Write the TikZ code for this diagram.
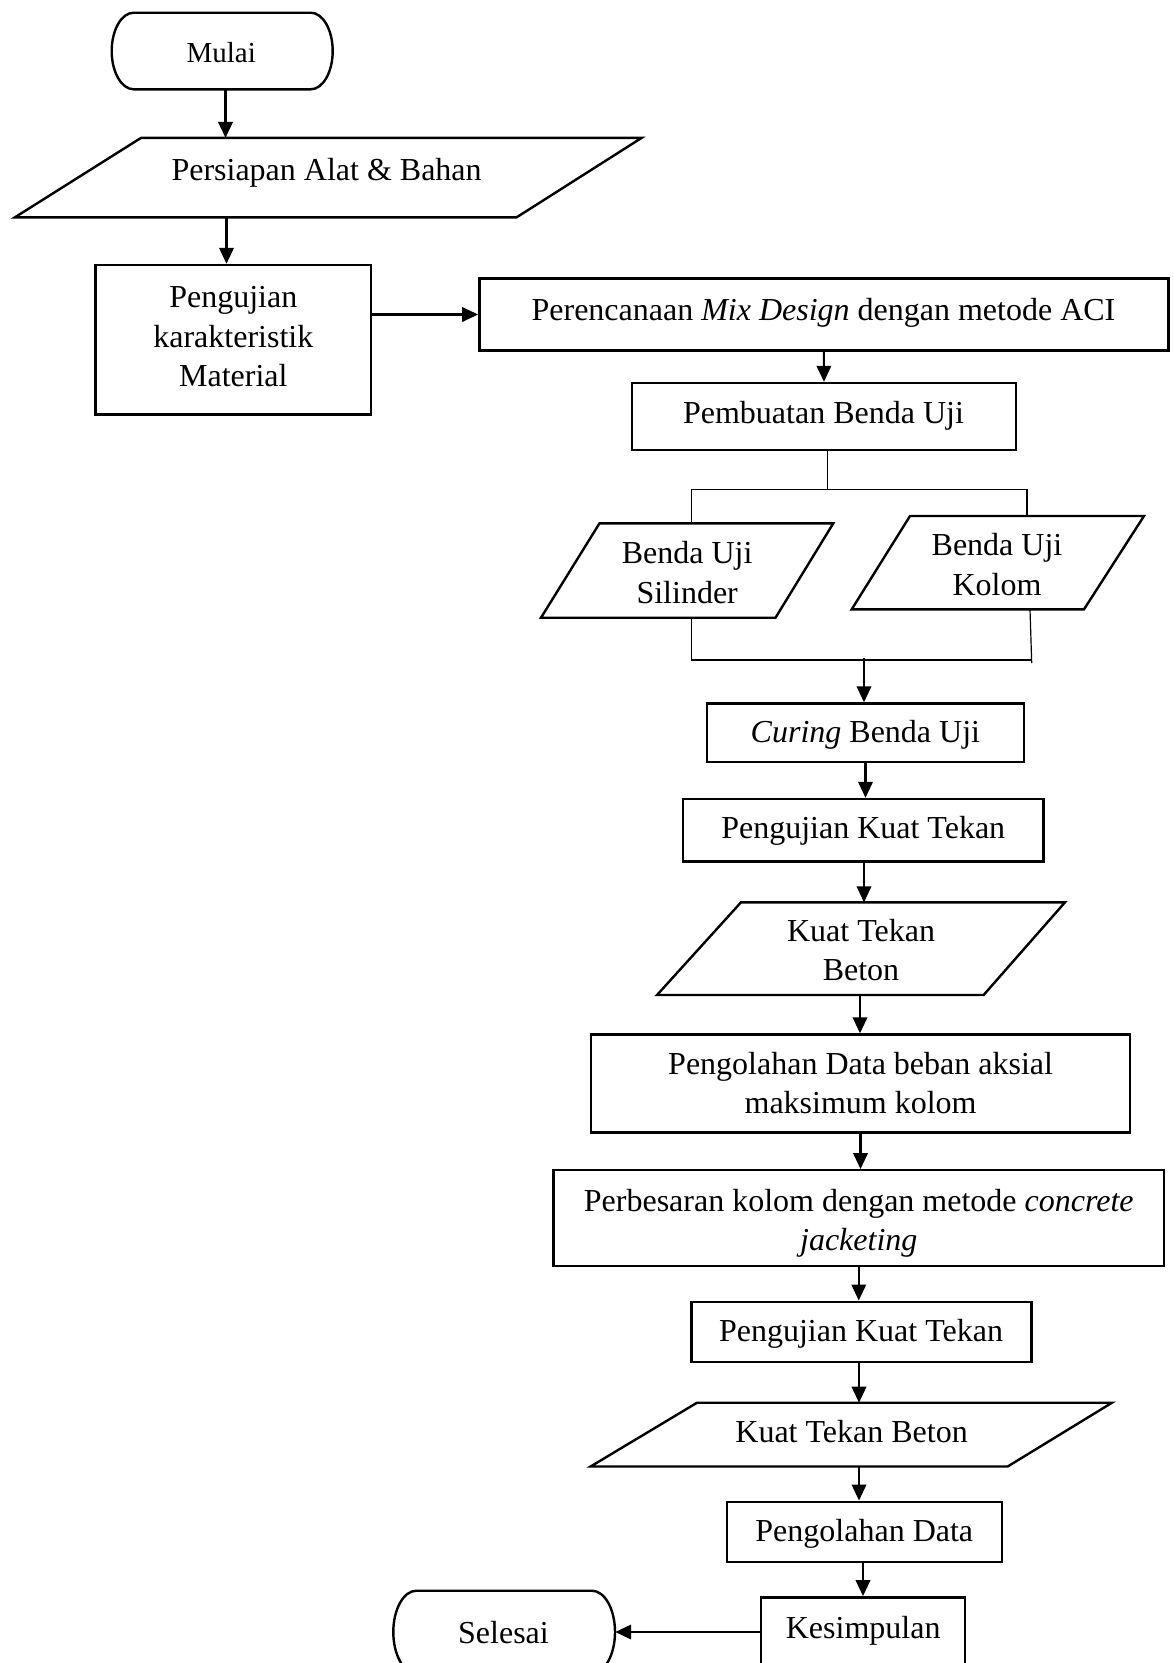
\documentclass[tikz,border=0pt]{standalone}
\usepackage{fontspec}
\setmainfont{Liberation Serif}
\usetikzlibrary{arrows.meta}
\newcommand\bigfont{\fontsize{32}{39.5}\selectfont}
\newcommand\midfont{\fontsize{29}{36}\selectfont}
\begin{document}
\begin{tikzpicture}[x=1pt,y=-1pt,
  box/.style={draw, line width=2.4pt, inner sep=0pt, rectangle},
  ghost/.style={inner sep=0pt, rectangle},
  shp/.style={draw, line width=2.4pt, line join=miter},
  lbl/.style={anchor=base, inner sep=0pt, font=\bigfont},
  arr/.style={line width=2.1pt, -{Triangle[length=16pt,width=14.5pt]}},
  thinln/.style={line width=1.2pt}]
\useasboundingbox (0,0) rectangle (1174,1663);
\fill[white] (0,0) rectangle (1174,1663);
\clip (0,0) rectangle (1174,1663);

% ---- Mulai (terminator)
\node[ghost, minimum width=221pt, minimum height=76.6pt] (mulai) at (222.2,51) {};
\draw[shp] (133.7,12.7) -- (310.7,12.7) .. controls (322.85,12.7) and (332.7,29.85) .. (332.7,51)
  .. controls (332.7,72.15) and (322.85,89.3) .. (310.7,89.3) -- (133.7,89.3)
  .. controls (121.55,89.3) and (111.7,72.15) .. (111.7,51)
  .. controls (111.7,29.85) and (121.55,12.7) .. (133.7,12.7) -- cycle;
\node[lbl, font=\midfont] (tmulai) at (221.2,62.3) {Mulai};

% ---- Persiapan (parallelogram)
\draw[shp] (141,137.9) -- (641.6,137.9) -- (516.5,217.4) -- (14.8,217.4) -- cycle;
\coordinate (persN) at (225.5,137.9);
\coordinate (persS) at (226.5,217.4);
\node[lbl] (tpers) at (326.6,180.2) {Persiapan Alat \& Bahan};

% ---- Pengujian karakteristik Material
\node[box, minimum width=275.8pt, minimum height=149.6pt] (peng) at (233.3,339.8) {};
\node[lbl] (tpeng1) at (233.3,307.3) {Pengujian};
\node[lbl] (tpeng2) at (233.3,347.0) {karakteristik};
\node[lbl] (tpeng3) at (233.3,386.6) {Material};

% ---- Perencanaan
\node[box, minimum width=689pt, minimum height=72pt] (perenc) at (823.8,314.5) {};
\node[lbl] (tperenc) at (823.5,320) {Perencanaan \textit{Mix Design} dengan metode ACI};

% ---- Pembuatan Benda Uji
\node[box, minimum width=384pt, minimum height=67pt] (pemb) at (824,416.5) {};
\node[lbl] (tpemb) at (823.5,423.5) {Pembuatan Benda Uji};

% ---- Silinder / Kolom
\draw[shp] (599.5,523.3) -- (833.3,523.3) -- (775.5,617.7) -- (541,617.7) -- cycle;
\coordinate (silN) at (691.7,523.3);
\coordinate (silS) at (691.7,617.7);
\node[lbl] (tsil1) at (687.2,563.6) {Benda Uji};
\node[lbl] (tsil2) at (687.2,603.4) {Silinder};

\draw[shp] (910,516) -- (1144,516) -- (1084,609.3) -- (851.7,609.3) -- cycle;
\coordinate (kolN) at (1027,516);
\coordinate (kolS) at (1030,609.3);
\node[lbl] (tkol1) at (997,555) {Benda Uji};
\node[lbl] (tkol2) at (997,595) {Kolom};

% ---- Curing
\node[box, minimum width=317pt, minimum height=58.5pt] (curing) at (865.5,732.75) {};
\node[lbl] (tcuring) at (865.4,742.5) {\textit{Curing} Benda Uji};

% ---- Pengujian Kuat Tekan 1
\node[box, minimum width=360.5pt, minimum height=62.5pt] (pkta) at (863.25,830.25) {};
\node[lbl] (tpkta) at (863.2,838.4) {Pengujian Kuat Tekan};

% ---- Kuat Tekan Beton 1
\draw[shp] (741,902.3) -- (1065,902.3) -- (983.6,995) -- (657,995) -- cycle;
\coordinate (ktbaN) at (864,902.3);
\coordinate (ktbaS) at (860,995);
\node[lbl] (tktba1) at (861,941.7) {Kuat Tekan};
\node[lbl] (tktba2) at (861,980) {Beton};

% ---- Pengolahan Data beban aksial
\node[box, minimum width=539pt, minimum height=98pt] (pdba) at (860.5,1083.5) {};
\node[lbl] (tpdba1) at (860.6,1074.3) {Pengolahan Data beban aksial};
\node[lbl] (tpdba2) at (860.6,1113.3) {maksimum kolom};

% ---- Perbesaran
\node[box, minimum width=610.5pt, minimum height=95.5pt] (perb) at (858.75,1218) {};
\node[lbl] (tperb1) at (858.75,1211) {Perbesaran kolom dengan metode \textit{concrete}};
\node[lbl] (tperb2) at (858.75,1250.5) {\textit{jacketing}};

% ---- Pengujian Kuat Tekan 2
\node[box, minimum width=340pt, minimum height=60pt] (pktb) at (861.4,1331.7) {};
\node[lbl] (tpktb) at (861,1341.8) {Pengujian Kuat Tekan};

% ---- Kuat Tekan Beton 2
\draw[shp] (697,1402.7) -- (1112,1402.7) -- (1007.6,1466.5) -- (590.6,1466.5) -- cycle;
\coordinate (ktbbN) at (859,1402.7);
\coordinate (ktbbS) at (859,1466.5);
\node[lbl] (tktbb) at (851.6,1442.8) {Kuat Tekan Beton};

% ---- Pengolahan Data
\node[box, minimum width=275pt, minimum height=60pt] (pd) at (864.5,1531.7) {};
\node[lbl] (tpd) at (864.3,1541.2) {Pengolahan Data};

% ---- Kesimpulan (bottom cut off by the page edge)
\node[box, minimum width=204pt, minimum height=102.7pt] (kes) at (863,1648.65) {};
\node[lbl] (tkes) at (863.2,1638.3) {Kesimpulan};

% ---- Selesai (terminator, bottom cut off)
\node[ghost, minimum width=221.7pt, minimum height=82.6pt] (selesai) at (504.15,1632) {};
\draw[shp] (416.3,1590.7) -- (592,1590.7) .. controls (604.7,1590.7) and (615,1609.2) .. (615,1632)
  .. controls (615,1654.8) and (604.7,1673.3) .. (592,1673.3) -- (416.3,1673.3)
  .. controls (403.6,1673.3) and (393.3,1654.8) .. (393.3,1632)
  .. controls (393.3,1609.2) and (403.6,1590.7) .. (416.3,1590.7) -- cycle;
\node[lbl] (tsel) at (503.5,1643.3) {Selesai};

% ---- split and join lines
\coordinate (splitM) at (827.7,489.3);
\coordinate (splitL) at (691.7,489.3);
\coordinate (splitR) at (1027,489.3);
\draw[thinln] (splitM |- pemb.south) -- (splitM);
\draw[thinln] (silN) -- (splitL) -- (splitR) -- (kolN);
\coordinate (joinL) at (691.7,660);
\coordinate (joinR) at (1031.7,660);
\coordinate (joinRe) at (1031.7,663);
\coordinate (joinM) at (864,658);
\draw[thinln] (silS) -- (joinL) -- (joinR);
\draw[thinln] (kolS) -- (joinRe);

% ---- connectors
\draw[arr] (persN |- mulai.south) -- (persN);
\draw[arr] (persS) -- (persS |- peng.north);
\draw[arr] (perenc.west -| peng.east) -- (perenc.west);
\draw[arr] (perenc.south) -- (pemb.north);
\draw[arr] (joinM) -- (joinM |- curing.north);
\draw[arr] (curing.south) -- (curing.south |- pkta.north);
\draw[arr] (pkta.south -| ktbaN) -- (ktbaN);
\draw[arr] (ktbaS) -- (ktbaS |- pdba.north);
\draw[arr] (pdba.south) -- (pdba.south |- perb.north);
\draw[arr] (perb.south) -- (perb.south |- pktb.north);
\draw[arr] (pktb.south -| ktbbN) -- (ktbbN);
\draw[arr] (ktbbS) -- (ktbbS |- pd.north);
\draw[arr] (pd.south -| kes.north) -- (kes.north);
\draw[arr] (selesai.east -| kes.west) -- (selesai.east);
\end{tikzpicture}
\end{document}
